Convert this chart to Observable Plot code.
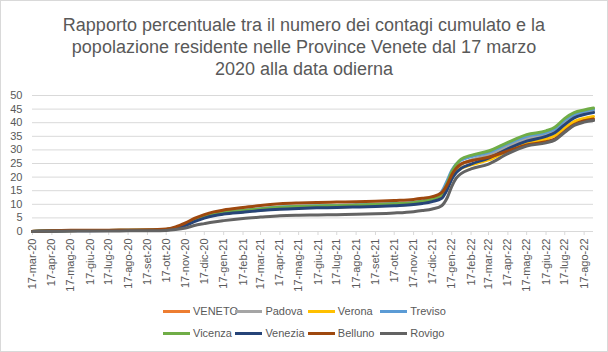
<!DOCTYPE html>
<html><head><meta charset="utf-8">
<script src="https://cdn.jsdelivr.net/npm/d3@7"></script>
<script src="https://cdn.jsdelivr.net/npm/@observablehq/plot@0.6"></script>
<style>
body{margin:0;background:#fff;}
#wrap{position:relative;width:608px;height:352px;background:#fff;outline:1px solid #d9d9d9;outline-offset:-1px;font-family:"Liberation Sans Narrow","Liberation Sans",Arial,sans-serif;color:#595959;overflow:hidden;}
#title{position:absolute;top:14px;left:0;width:608px;text-align:center;font-size:18px;line-height:22px;}
#chart{position:absolute;top:80px;left:0;}
.leg{position:absolute;font-family:"Liberation Sans",Arial,sans-serif;font-size:11px;line-height:14px;display:flex;align-items:center;}
.leg i{display:inline-block;width:27px;height:3px;margin-right:3px;}
</style></head>
<body>
<div id="wrap">
  <div id="title">Rapporto percentuale tra il numero dei contagi cumulato e la<br>popolazione residente nelle Province Venete dal 17 marzo<br>2020 alla data odierna</div>
  <div id="chart"></div>
</div>
<script>
const dates = ["2020-03-17","2020-04-17","2020-05-17","2020-06-17","2020-07-17","2020-08-17","2020-09-17","2020-10-17","2020-11-01","2020-11-17","2020-12-01","2020-12-17","2021-01-01","2021-01-17","2021-02-17","2021-03-17","2021-04-17","2021-05-17","2021-06-17","2021-07-17","2021-08-17","2021-09-17","2021-10-17","2021-11-17","2021-12-01","2021-12-17","2022-01-01","2022-01-10","2022-01-17","2022-01-24","2022-02-01","2022-02-17","2022-03-17","2022-04-17","2022-05-17","2022-06-17","2022-07-01","2022-07-17","2022-08-01","2022-08-17","2022-09-01"];
const seriesNames = ["VENETO","Padova","Verona","Treviso","Vicenza","Venezia","Belluno","Rovigo"];
const seriesColors = ["#ED7D31","#A5A5A5","#FFC000","#5B9BD5","#70AD47","#264478","#9E480E","#636363"];
const veneto  = [0.03,0.2,0.3,0.35,0.35,0.4,0.45,0.7,1.3,2.6,4.0,5.3,6.2,6.8,7.5,8.1,8.6,8.9,9.1,9.2,9.4,9.6,9.9,10.3,10.8,11.6,13.3,16.9,20.6,23.0,24.6,26.1,28.0,31.2,34.0,35.5,36.8,39.8,42.2,43.4,44.0];
const padova  = [0.03,0.25,0.35,0.4,0.4,0.45,0.5,0.7,1.3,2.5,3.9,5.2,6.1,6.7,7.4,8.0,8.5,8.8,9.0,9.1,9.3,9.5,9.8,10.2,10.7,11.5,13.2,16.8,20.5,23.0,24.6,26.2,28.2,31.4,34.2,35.8,37.0,40.0,42.5,43.6,44.3];
const verona  = [0.03,0.2,0.3,0.35,0.35,0.4,0.45,0.7,1.3,2.5,3.9,5.2,6.0,6.6,7.3,7.9,8.4,8.7,8.9,9.0,9.2,9.4,9.7,10.1,10.6,11.4,12.8,16.2,19.8,21.8,23.2,24.5,26.3,29.7,32.4,34.0,35.2,38.0,40.4,41.6,42.3];
const treviso = [0.03,0.2,0.3,0.35,0.35,0.4,0.45,0.7,1.4,2.7,4.2,5.6,6.5,7.1,7.8,8.4,9.0,9.3,9.5,9.6,9.8,10.0,10.3,10.7,11.2,12.1,14.6,18.8,22.4,24.7,26.2,27.5,29.1,32.3,35.0,36.4,37.7,41.0,43.1,44.2,44.9];
const vicenza = [0.03,0.25,0.35,0.4,0.4,0.45,0.5,0.75,1.4,2.7,4.2,5.5,6.4,7.0,7.7,8.3,8.9,9.2,9.4,9.5,9.7,9.9,10.2,10.6,11.1,11.9,13.8,17.8,21.8,24.6,26.6,28.0,29.6,32.8,35.6,37.0,38.3,41.6,43.7,44.7,45.4];
const venezia = [0.03,0.2,0.3,0.3,0.35,0.4,0.4,0.6,1.2,2.3,3.6,4.9,5.8,6.4,7.1,7.7,8.2,8.5,8.7,8.8,9.0,9.2,9.5,9.9,10.3,11.0,12.2,15.5,19.2,21.6,23.2,24.8,27.0,30.4,33.2,35.0,36.3,39.3,41.8,43.0,43.7];
const belluno = [0.05,0.3,0.45,0.5,0.5,0.55,0.6,0.9,1.7,3.2,4.8,6.2,7.2,7.9,8.8,9.6,10.2,10.5,10.7,10.8,10.9,11.1,11.4,11.8,12.2,12.8,14.3,17.3,20.8,23.2,24.8,26.0,27.3,29.6,31.8,33.0,34.0,36.8,39.3,40.7,41.4];
const rovigo  = [0.02,0.1,0.15,0.2,0.2,0.25,0.3,0.4,0.7,1.3,2.2,2.9,3.5,4.0,4.8,5.3,5.8,6.0,6.1,6.2,6.3,6.5,6.8,7.3,7.7,8.3,9.5,12.5,16.5,19.5,21.3,23.0,24.8,28.6,31.4,32.6,33.6,36.5,39.0,40.2,40.8];
const seriesValues = [veneto,padova,verona,treviso,vicenza,venezia,belluno,rovigo];
const yTicks = [0,5,10,15,20,25,30,35,40,45,50];
const monthAbbr = ["gen","feb","mar","apr","mag","giu","lug","ago","set","ott","nov","dic"];
const xTickDates = ["2020-03-17","2020-04-17","2020-05-17","2020-06-17","2020-07-17","2020-08-17","2020-09-17","2020-10-17","2020-11-17","2020-12-17","2021-01-17","2021-02-17","2021-03-17","2021-04-17","2021-05-17","2021-06-17","2021-07-17","2021-08-17","2021-09-17","2021-10-17","2021-11-17","2021-12-17","2022-01-17","2022-02-17","2022-03-17","2022-04-17","2022-05-17","2022-06-17","2022-07-17","2022-08-17"];

const data = seriesNames.flatMap((s, i) => dates.map((d, j) => ({date: new Date(d), value: seriesValues[i][j], series: s})));
const fmt = d => `${d.getUTCDate()}-${monthAbbr[d.getUTCMonth()]}-${String(d.getUTCFullYear()).slice(2)}`;

const chart = Plot.plot({
  width: 608, height: 220,
  marginTop: 15, marginBottom: 69, marginLeft: 32, marginRight: 15,
  style: {fontFamily: '"Liberation Sans", Arial, sans-serif', fontSize: "11px", color: "#595959", background: "transparent"},
  x: {type: "utc", domain: [new Date(dates[0]), new Date(dates[dates.length-1])]},
  y: {domain: [0, 50]},
  color: {domain: seriesNames, range: seriesColors},
  marks: [
    Plot.gridY(yTicks, {stroke: "#d9d9d9", strokeOpacity: 1}),
    Plot.ruleY([0], {stroke: "#d9d9d9"}),
    Plot.axisY(yTicks, {tickSize: 0, tickPadding: 10, label: null, fill: "#595959"}),
    Plot.axisX(xTickDates.map(d => new Date(d)), {tickFormat: fmt, tickRotate: -90, tickSize: 4, tickPadding: 3, label: null, stroke: "#d9d9d9", fill: "#595959"}),
    Plot.line(data, {x: "date", y: "value", z: "series", stroke: "series", strokeWidth: 3, curve: "monotone-x", strokeLinejoin: "round"})
  ]
});
document.getElementById("chart").appendChild(chart);

// legend
const wrap = document.getElementById("wrap");
seriesNames.forEach((s, i) => {
  const col = i % 4, row = Math.floor(i / 4);
  const el = document.createElement("div");
  el.className = "leg";
  el.style.left = (163 + col * 72.4) + "px";
  el.style.top = (304 + row * 22) + "px";
  el.innerHTML = `<i style="background:${seriesColors[i]}"></i><span>${s}</span>`;
  wrap.appendChild(el);
});
</script>
</body></html>
